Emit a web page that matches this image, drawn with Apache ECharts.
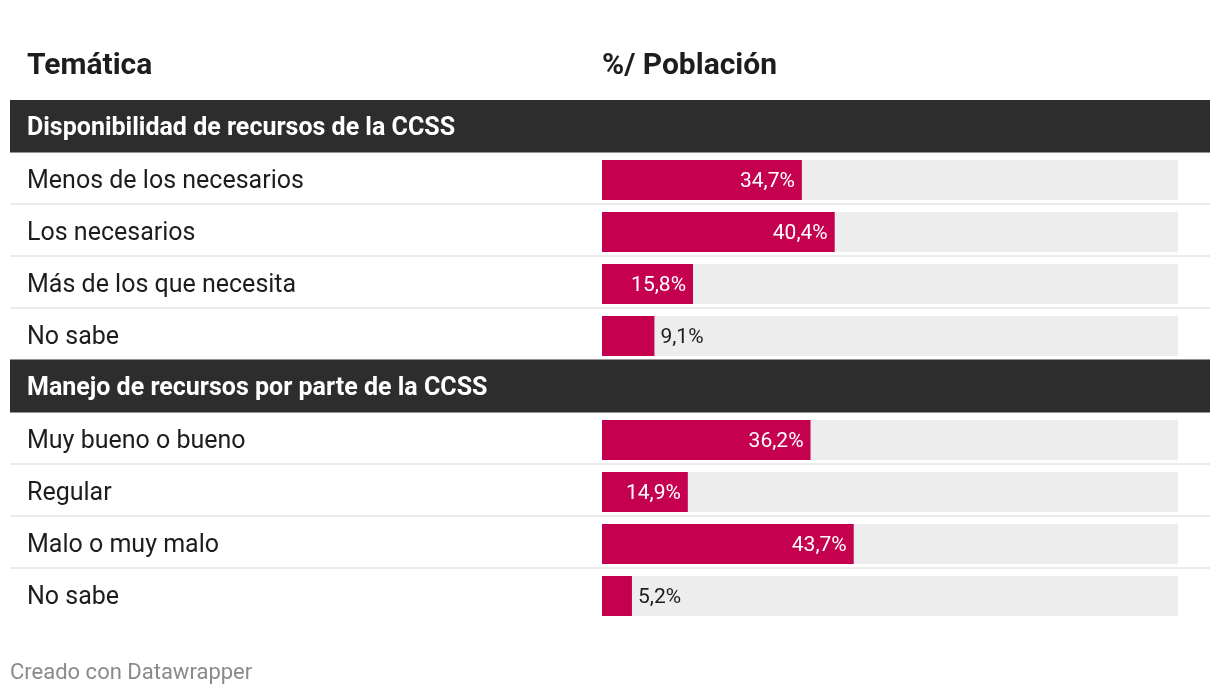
<!DOCTYPE html>
<html>
<head>
<meta charset="utf-8">
<script src="https://cdn.jsdelivr.net/npm/echarts@6/dist/echarts.min.js"></script>
<style>
html,body{margin:0;padding:0;background:#fff;}
#chart{width:1220px;height:696px;}
</style>
</head>
<body>
<div id="chart"></div>
<script>
// Data
const headerLeft = 'Temática';
const headerRight = '%/ Población';
const footerText = 'Creado con Datawrapper';
const rows = ['Disponibilidad de recursos de la CCSS', 'Menos de los necesarios', 'Los necesarios', 'Más de los que necesita', 'No sabe',
              'Manejo de recursos por parte de la CCSS', 'Muy bueno o bueno', 'Regular', 'Malo o muy malo', 'No sabe'];
const isGroup = [true, false, false, false, false, true, false, false, false, false];
const values = ['-', 34.7, 40.4, 15.8, 9.1, '-', 36.2, 14.9, 43.7, 5.2];

const BAR = '#c4004f';
const FONT = 'Roboto';

const chart = echarts.init(document.getElementById('chart'), null, {renderer: 'canvas'});

const fmt = v => v.toFixed(1).replace('.', ',') + '%';

const barData = values.map(v => {
  if (v === '-') return '-';
  const inside = v >= 12;
  return {
    value: v,
    label: inside
      ? {position: 'insideRight', color: '#ffffff', distance: 7}
      : {position: 'right', color: '#1d1d1d', distance: 6}
  };
});

const bandData = isGroup.map(g => g ? 1 : '-');

const splitColors = [];
for (let i = 0; i <= rows.length; i++) {
  const prevGroup = i > 0 && isGroup[i - 1];
  const nextGroup = i < rows.length && isGroup[i];
  const edge = i === 0 || i === rows.length;
  splitColors.push(edge || prevGroup || nextGroup ? 'rgba(0,0,0,0)' : '#ebebeb');
}

const option = {
  backgroundColor: '#ffffff',
  animation: false,
  textStyle: {fontFamily: FONT},
  title: [
    {text: headerLeft, left: 27, top: 48, padding: 0,
     textStyle: {fontFamily: FONT, fontSize: 30, fontWeight: 'bold', color: '#1d1d1d', lineHeight: 36}},
    {text: headerRight, left: 602, top: 48, padding: 0,
     textStyle: {fontFamily: FONT, fontSize: 30, fontWeight: 'bold', color: '#1d1d1d', lineHeight: 36}},
    {text: footerText, left: 10, top: 660, padding: 0,
     textStyle: {fontFamily: FONT, fontSize: 22, fontWeight: 'normal', color: '#8a8a8a', lineHeight: 26}}
  ],
  grid: [
    {left: 10, width: 1200, top: 100, height: 520},
    {left: 602, width: 576, top: 102, height: 520}
  ],
  xAxis: [
    {type: 'value', gridIndex: 0, min: 0, max: 1, show: false},
    {type: 'value', gridIndex: 1, min: 0, max: 100, show: false}
  ],
  yAxis: [
    {type: 'category', gridIndex: 0, data: rows, inverse: true, z: 10,
     axisLine: {show: false}, axisTick: {show: false},
     splitLine: {show: true, lineStyle: {color: splitColors, width: 2}},
     axisLabel: {inside: true, margin: 17,
       formatter: (val, idx) => isGroup[idx] ? '{g|' + val + '}' : '{r|' + val + '}',
       rich: {
         g: {fontFamily: FONT, fontSize: 25, fontWeight: 'bold', color: '#ffffff', padding: [6, 0, 0, 0]},
         r: {fontFamily: FONT, fontSize: 25, color: '#1d1d1d', padding: [8, 0, 0, 0]}
       }}},
    {type: 'category', gridIndex: 1, data: rows, inverse: true, show: false}
  ],
  series: [
    {type: 'bar', name: 'band', xAxisIndex: 0, yAxisIndex: 0, data: bandData,
     barWidth: 53, itemStyle: {color: '#2d2d2d'}, z: 5, silent: true},
    {type: 'bar', name: 'Población', xAxisIndex: 1, yAxisIndex: 1, data: barData,
     barWidth: 40, showBackground: true, backgroundStyle: {color: '#ededed'},
     itemStyle: {color: BAR}, z: 2,
     label: {show: true, fontFamily: FONT, fontSize: 21, offset: [0, 2], formatter: p => fmt(p.value)}}
  ]
};

chart.setOption(option);
</script>
</body>
</html>
